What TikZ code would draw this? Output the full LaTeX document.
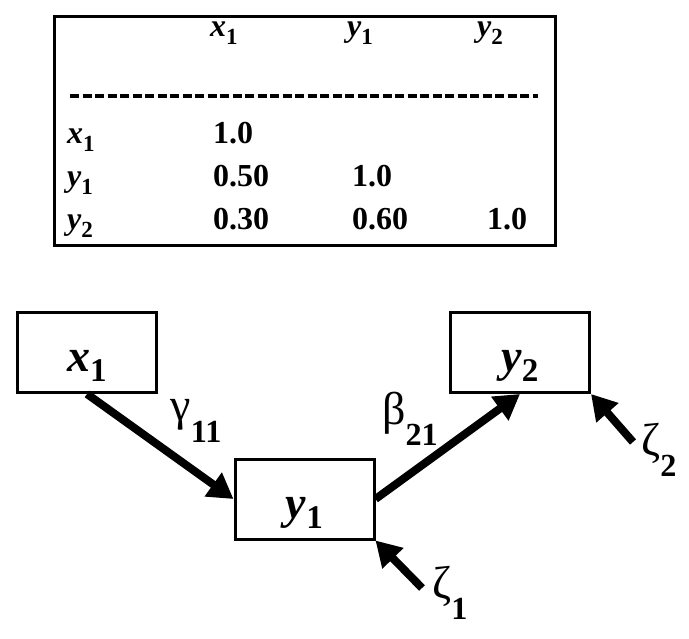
\documentclass[tikz,border=0pt]{standalone}
\usepackage{fontspec}
\setmainfont{Liberation Serif}
\usepackage{tikz}
\usetikzlibrary{arrows.meta}

% variable name with a dropped bold subscript
\newcommand{\vnm}[2]{\textbf{\textit{#1}}\raisebox{-0.22em}{\scalebox{0.72}{\textbf{#2}}}}
% greek coefficient, subscript dropped further
\newcommand{\gnm}[2]{#1\raisebox{-0.46em}{\scalebox{0.7}{\textbf{#2}}}}

\begin{document}
\begin{tikzpicture}[x=1pt,y=-1pt,
  tabtxt/.style={anchor=base west,inner sep=0pt,font=\fontsize{32}{36}\selectfont\bfseries},
  varbox/.style={draw,line width=3pt,inner sep=0pt,minimum width=139pt,
    text height=59pt,text depth=21pt,font=\fontsize{46}{50}\selectfont},
  coef/.style={inner sep=0pt,font=\fontsize{46}{50}\selectfont},
  effect/.style={line width=8pt,-{Triangle[length=25pt,width=28pt]}}]
  \useasboundingbox (0,0) rectangle (689,639);

  % Correlation table (top)
  \node[draw,line width=3pt,inner sep=0pt,minimum width=501pt,minimum height=229pt] (corr) at (305,131) {};
  \node[tabtxt] (hx1) at (210,37) {\vnm{x}{1}};
  \node[tabtxt] (hy1) at (347,37) {\vnm{y}{1}};
  \node[tabtxt] (hy2) at (477,37) {\vnm{y}{2}};
  \draw[line width=3.5pt,dash pattern=on 9pt off 3.5pt] (70,96) -- (538,96);
  \node[tabtxt] (rx1) at (67,144) {\vnm{x}{1}};
  \node[tabtxt] (ry1) at (67,187) {\vnm{y}{1}};
  \node[tabtxt] (ry2) at (67,230) {\vnm{y}{2}};
  \node[tabtxt] (c11) at (213,144) {1.0};
  \node[tabtxt] (c21) at (213,187) {0.50};
  \node[tabtxt] (c22) at (352,187) {1.0};
  \node[tabtxt] (c31) at (213,230) {0.30};
  \node[tabtxt] (c32) at (352,230) {0.60};
  \node[tabtxt] (c33) at (487,230) {1.0};

  % Path model (bottom)
  \node[varbox] (x1) at (87,352.5) {\vnm{x}{1}};
  \node[varbox] (y1) at (304.5,499) {\vnm{y}{1}};
  \node[varbox] (y2) at (520,352.5) {\vnm{y}{2}};
  \draw[effect] (x1.south) -- (y1.west);
  \draw[effect] (y1.east) -- (y2.south);
  \node[coef] (gam) at (196,421) {\gnm{γ}{11}};
  \node[coef] (bet) at (410,419) {\gnm{β}{21}};

  % disturbances
  \coordinate (z1tail) at (422,588);
  \coordinate (z2tail) at (633,442);
  \draw[effect] (z1tail) -- (y1.south east);
  \draw[effect] (z2tail) -- (y2.south east);
  \node[coef] (zeta1) at (450,593) {\gnm{ζ}{1}};
  \node[coef] (zeta2) at (659,450) {\gnm{ζ}{2}};
\end{tikzpicture}
\end{document}
